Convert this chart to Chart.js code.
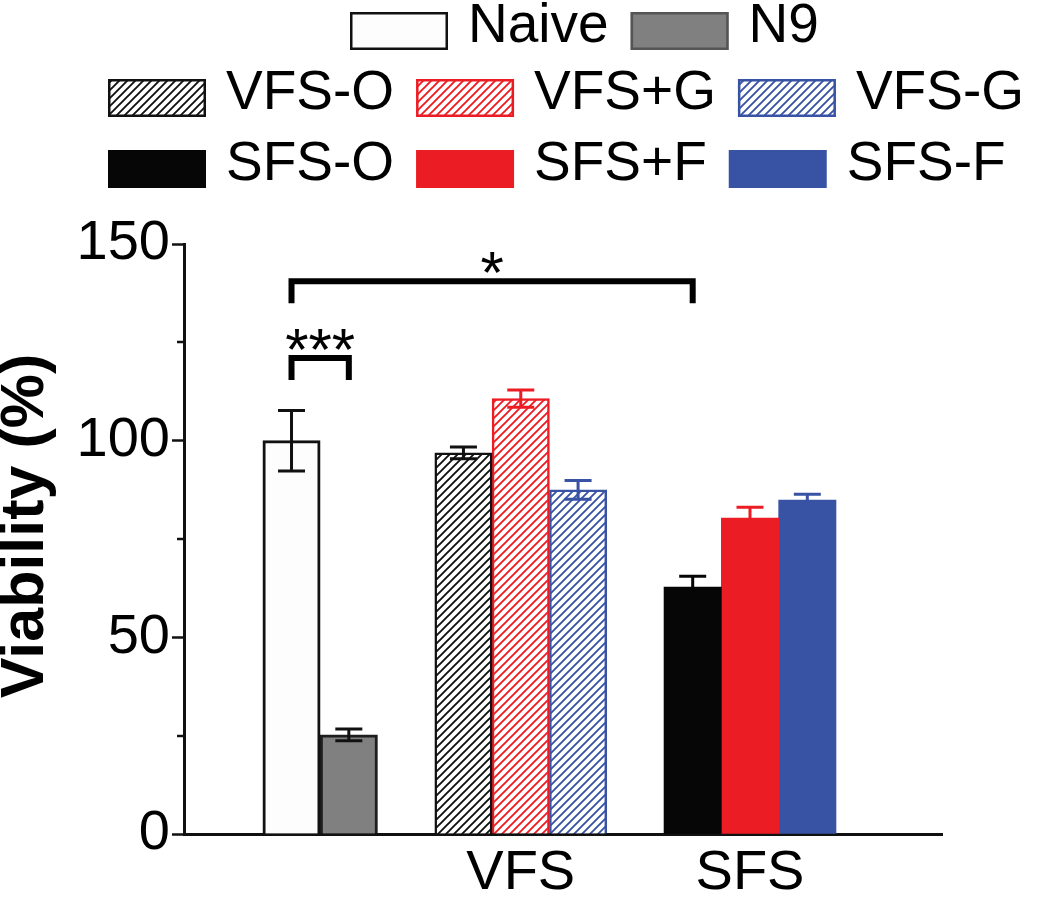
<!DOCTYPE html>
<html><head><meta charset="utf-8">
<script src="https://cdn.jsdelivr.net/npm/chart.js@4.4.0/dist/chart.umd.min.js"></script>
<style>html,body{margin:0;padding:0;background:#fff;} canvas{display:block;}</style>
</head><body>
<canvas id="c" width="1050" height="897"></canvas>
<script>
// ---------------- data ----------------
const categories    = ['Naive', 'N9', 'VFS-O', 'VFS+G', 'VFS-G', 'SFS-O', 'SFS+F', 'SFS-F'];
const categoryGroup = [0, 0, 1, 1, 1, 2, 2, 2];
const groupLabels   = ['', 'VFS', 'SFS'];
const viability     = [100, 25.2, 96.9, 110.7, 87.5, 62.8, 80.3, 84.9];
const viabilityErr  = [7.7, 1.5, 1.5, 2.2, 2.4, 2.7, 2.8, 1.5];
const yTickValues   = [0, 50, 100, 150];
const yTitle        = 'Viability (%)';
const significance  = [
  { a: 'Naive', b: 'N9',    level: 121,   mark: '***' },
  { a: 'Naive', b: 'SFS-O', level: 140.5, mark: '*' }
];

// ---------------- styles ----------------
const FONT = '"Liberation Sans", Arial, Helvetica, sans-serif';
const canvas = document.getElementById('c');
const ctx2d = canvas.getContext('2d');
function hatch(color) {
  const s = 8;
  const pc = document.createElement('canvas');
  pc.width = s; pc.height = s;
  const g = pc.getContext('2d');
  g.fillStyle = '#ffffff'; g.fillRect(0, 0, s, s);
  g.strokeStyle = color; g.lineWidth = 1.9;
  g.beginPath();
  g.moveTo(-1, s + 1); g.lineTo(s + 1, -1);
  g.moveTo(-s / 2 - 1, s / 2 + 1); g.lineTo(s / 2 + 1, -s / 2 - 1);
  g.moveTo(s / 2 - 1, s * 1.5 + 1); g.lineTo(s * 1.5 + 1, s / 2 - 1);
  g.stroke();
  return ctx2d.createPattern(pc, 'repeat');
}
const RED = '#ec1c24', BLUE = '#3953a4', BLACK = '#060606', GRAY = '#808080';
const seriesStyle = {
  'Naive': { bg: '#fdfdfd',     border: '#111111', bw: 3,   err: '#111111' },
  'N9':    { bg: GRAY,          border: '#1e1e1e', bw: 3,   err: '#111111', legendBorder: '#555555' },
  'VFS-O': { bg: hatch('#111'), border: '#111111', bw: 2.5, err: '#111111' },
  'VFS+G': { bg: hatch(RED),    border: RED,       bw: 2.5, err: RED },
  'VFS-G': { bg: hatch(BLUE),   border: BLUE,      bw: 2.5, err: BLUE },
  'SFS-O': { bg: BLACK,         border: BLACK,     bw: 0,   err: BLACK },
  'SFS+F': { bg: RED,           border: RED,       bw: 0,   err: RED },
  'SFS-F': { bg: BLUE,          border: BLUE,      bw: 0,   err: BLUE }
};

// slot positions: one empty slot between groups
const slotPos = categories.map((c, i) => i + categoryGroup[i]);
const groupCenters = groupLabels.map((g, gi) => {
  const p = slotPos.filter((s, i) => categoryGroup[i] === gi);
  return p.reduce((a, b) => a + b, 0) / p.length;
});

const datasets = categories.map((name, i) => ({
  label: name,
  data: [{ x: slotPos[i], y: viability[i] }],
  errors: [viabilityErr[i]],
  backgroundColor: seriesStyle[name].bg,
  borderColor: seriesStyle[name].border,
  borderWidth: seriesStyle[name].bw,
  errorColor: seriesStyle[name].err,
  grouped: false,
  barPercentage: 1,
  categoryPercentage: 1
}));

// ---------------- plugins ----------------
const errorBars = {
  id: 'errorBars',
  afterDatasetsDraw(chart) {
    const { ctx, scales: { y } } = chart;
    chart.data.datasets.forEach((ds, di) => {
      const meta = chart.getDatasetMeta(di);
      meta.data.forEach((bar, j) => {
        const v = ds.data[j].y, e = ds.errors[j];
        const cx = bar.x, yT = y.getPixelForValue(v + e), yB = y.getPixelForValue(v - e);
        const hw = 13.5;
        ctx.save();
        ctx.strokeStyle = ds.errorColor; ctx.lineWidth = 3;
        ctx.beginPath();
        ctx.moveTo(cx, yT); ctx.lineTo(cx, yB);
        ctx.moveTo(cx - hw, yT); ctx.lineTo(cx + hw, yT);
        ctx.moveTo(cx - hw, yB); ctx.lineTo(cx + hw, yB);
        ctx.stroke();
        ctx.restore();
      });
    });
  }
};

const sigBrackets = {
  id: 'sigBrackets',
  afterDatasetsDraw(chart) {
    const { ctx, scales: { x, y } } = chart;
    significance.forEach(s => {
      const xa = x.getPixelForValue(slotPos[categories.indexOf(s.a)]);
      const xb = x.getPixelForValue(slotPos[categories.indexOf(s.b)]);
      const yl = y.getPixelForValue(s.level);
      const drop = 22;
      ctx.save();
      ctx.strokeStyle = '#000'; ctx.lineWidth = 6; ctx.lineJoin = 'miter'; ctx.lineCap = 'butt';
      ctx.beginPath();
      ctx.moveTo(xa, yl + drop); ctx.lineTo(xa, yl); ctx.lineTo(xb, yl); ctx.lineTo(xb, yl + drop);
      ctx.stroke();
      ctx.fillStyle = '#000';
      ctx.font = '60px ' + FONT;
      ctx.textAlign = 'center'; ctx.textBaseline = 'alphabetic';
      ctx.fillText(s.mark, (xa + xb) / 2, yl + 12);
      ctx.restore();
    });
  }
};

const minorTicks = {
  id: 'minorTicks',
  afterDraw(chart) {
    const { ctx, scales: { y } } = chart;
    ctx.save();
    ctx.strokeStyle = '#111'; ctx.lineWidth = 2.5;
    y.ticks.forEach(t => {
      if (yTickValues.includes(t.value)) return;
      const py = Math.round(y.getPixelForValue(t.value));
      ctx.beginPath(); ctx.moveTo(y.right - 7, py); ctx.lineTo(y.right, py); ctx.stroke();
    });
    ctx.restore();
  }
};

const yTitlePlugin = {
  id: 'yTitlePlugin',
  afterDraw(chart) {
    const ctx = chart.ctx;
    ctx.save();
    ctx.translate(26, 526);
    ctx.rotate(-Math.PI / 2);
    ctx.font = 'bold 61px ' + FONT;
    ctx.fillStyle = '#000';
    ctx.textAlign = 'center'; ctx.textBaseline = 'middle';
    ctx.fillText(yTitle, 0, 0);
    ctx.restore();
  }
};

const legendRows = [[0, 1], [2, 3, 4], [5, 6, 7]];
const customLegend = {
  id: 'customLegend',
  afterDraw(chart) {
    const ctx = chart.ctx;
    const rowX = [350, 108, 108];
    const rowY = [31, 98, 169];
    const boxW = 98, boxH = 38, textGap = 20, itemGap = 22;
    ctx.save();
    ctx.font = '55px ' + FONT;
    ctx.textBaseline = 'middle'; ctx.textAlign = 'left';
    legendRows.forEach((row, r) => {
      let xx = rowX[r];
      const cy = rowY[r];
      row.forEach(i => {
        const ds = chart.data.datasets[i];
        const st = seriesStyle[ds.label];
        ctx.fillStyle = ds.backgroundColor;
        ctx.fillRect(xx, cy - boxH / 2, boxW, boxH);
        if (st.bw) {
          ctx.strokeStyle = st.legendBorder || ds.borderColor; ctx.lineWidth = 2.5;
          ctx.strokeRect(xx + 1.25, cy - boxH / 2 + 1.25, boxW - 2.5, boxH - 2.5);
        }
        ctx.fillStyle = '#000';
        ctx.fillText(ds.label, xx + boxW + textGap, cy - 4);
        xx += boxW + textGap + ctx.measureText(ds.label).width + itemGap;
      });
    });
    ctx.restore();
  }
};

// ---------------- chart ----------------
new Chart(canvas, {
  type: 'bar',
  data: { datasets },
  options: {
    responsive: false,
    animation: false,
    layout: { padding: { top: 244, right: 108, left: 0, bottom: 0 } },
    plugins: { legend: { display: false }, tooltip: { enabled: false } },
    scales: {
      x: {
        type: 'linear',
        min: -1.876, max: 11.35,
        offset: false,
        grid: { display: false, drawTicks: false },
        border: { display: true, color: '#111', width: 3 },
        afterBuildTicks(scale) {
          scale.ticks = groupCenters.map((v, i) => ({ value: v, label: groupLabels[i] }));
        },
        ticks: {
          autoSkip: false, maxRotation: 0, padding: 6,
          color: '#000', font: { family: FONT, size: 56 },
          callback(v) { const i = groupCenters.indexOf(v); return i >= 0 ? groupLabels[i] : ''; }
        },
        afterFit(scale) { scale.height = 63; }
      },
      y: {
        min: 0, max: 150,
        afterBuildTicks(scale) {
          const t = [];
          yTickValues.forEach((v, i) => {
            t.push({ value: v });
            if (i < yTickValues.length - 1) t.push({ value: (v + yTickValues[i + 1]) / 2 });
          });
          scale.ticks = t;
        },
        grid: {
          display: true, drawOnChartArea: false, drawTicks: true, tickLength: 12, tickWidth: 2.5,
          tickColor: c => (c.tick && yTickValues.includes(c.tick.value)) ? '#111' : 'rgba(0,0,0,0)'
        },
        border: { display: true, color: '#111', width: 3 },
        ticks: {
          padding: 2, color: '#000', font: { family: FONT, size: 56 },
          callback(v) { return yTickValues.includes(v) ? String(v) : ''; }
        },
        title: { display: false },
        afterFit(scale) { scale.width = 184; }
      }
    }
  },
  plugins: [errorBars, sigBrackets, minorTicks, yTitlePlugin, customLegend]
});
</script>
</body></html>
